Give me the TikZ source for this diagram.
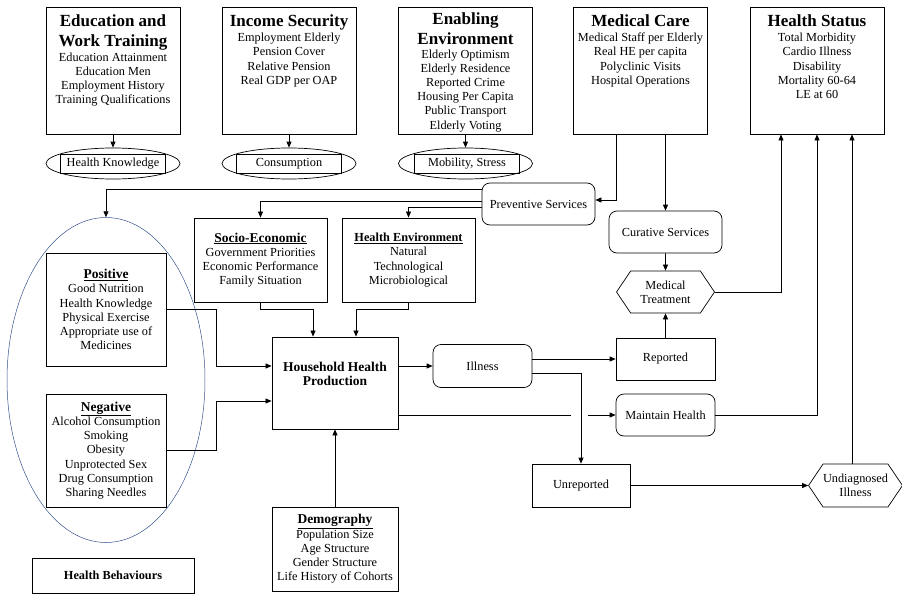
\documentclass[tikz,border=0pt]{standalone}
\usepackage{fontspec}
\setmainfont{Liberation Serif}
\usetikzlibrary{arrows.meta,positioning,shapes.geometric,shapes.symbols}
\definecolor{ovalblue}{RGB}{52,82,140}
\newcommand\factorhead[1]{{\fontsize{13.5}{14}\selectfont\bfseries\underline{#1}}}

\begin{document}
\begin{tikzpicture}[x=1pt,y=-1pt,>={Triangle[length=6pt,width=5pt]},
  font=\fontsize{12.3}{14.2}\selectfont,line width=0.7pt,
  panel/.style={draw,line width=0.9pt,minimum width=134pt,minimum height=127pt,inner sep=0pt},
  ptitle/.style={font=\fontsize{17}{19.5}\selectfont\bfseries,align=center,inner sep=0pt,text depth=3.7pt},
  pbody/.style={align=center,inner sep=0pt},
  oval/.style={draw,ellipse,minimum width=134pt,minimum height=31pt,inner sep=0pt},
  tag/.style={draw,minimum width=105pt,minimum height=19pt,inner sep=0pt},
  factor/.style={draw,line width=0.9pt,align=center,inner sep=0pt},
  soft/.style={draw,rounded corners=8pt,minimum width=99pt,minimum height=42pt,inner sep=0pt},
  plain/.style={draw,minimum width=99pt,minimum height=42pt,inner sep=0pt},
  hexa/.style={draw,signal,signal to=east and west,signal pointer angle=112,
    minimum width=98pt,minimum height=42pt,inner sep=0pt,align=center}]
  \useasboundingbox (0,0) rectangle (902,594);

  % determinants along the top
  \node[panel] (edu) at (113,70.5) {};
  \node[ptitle,below=8pt of edu.north] (edut) {Education and\\Work Training};
  \node[pbody,below=2pt of edut] (edub) {Education Attainment\\Education Men\\Employment History\\Training Qualifications};
  \node[panel] (inc) at (289,70.5) {};
  \node[ptitle,below=8pt of inc.north] (inct) {Income Security};
  \node[pbody,below=2pt of inct] (incb) {Employment Elderly\\Pension Cover\\Relative Pension\\Real GDP per OAP};
  \node[panel] (enab) at (465.5,70.5) {};
  \node[ptitle,below=6pt of enab.north] (enabt) {Enabling\\Environment};
  \node[pbody,below=1pt of enabt] (enabb) {Elderly Optimism\\Elderly Residence\\Reported Crime\\Housing Per Capita\\Public Transport\\Elderly Voting};
  \node[panel] (med) at (640.5,70.5) {};
  \node[ptitle,below=8pt of med.north] (medt) {Medical Care};
  \node[pbody,below=2pt of medt] (medb) {Medical Staff per Elderly\\Real HE per capita\\Polyclinic Visits\\Hospital Operations};
  \node[panel] (stat) at (817,70.5) {};
  \node[ptitle,below=8pt of stat.north] (statt) {Health Status};
  \node[pbody,below=2pt of statt] (statb) {Total Morbidity\\Cardio Illness\\Disability\\Mortality 60-64\\LE at 60};

  \node[oval] (know) at (113,163.5) {};
  \node[tag] (knowt) at (113,163.5) {Health Knowledge};
  \node[oval] (cons) at (289,163.5) {};
  \node[tag] (const) at (289,163.5) {Consumption};
  \node[oval] (mob) at (465.5,163.5) {};
  \node[tag] (mobt) at (467,163.5) {Mobility, Stress};
  \draw[->] (edu) -- (know);
  \draw[->] (inc) -- (cons);
  \draw[->] (enab) -- (mob);

  % health behaviours
  \node[draw=ovalblue,ellipse,line width=0.5pt,minimum width=198pt,minimum height=325pt] (behav) at (106,380) {};
  \node[factor,minimum width=120pt,minimum height=113pt] (pos) at (106,309.5)
    {\factorhead{Positive}\\Good Nutrition\\Health Knowledge\\Physical Exercise\\Appropriate use of\\Medicines};
  \node[factor,minimum width=120pt,minimum height=113pt] (neg) at (106,450.5)
    {\factorhead{Negative}\\Alcohol Consumption\\Smoking\\Obesity\\Unprotected Sex\\Drug Consumption\\Sharing Needles};
  \node[factor,minimum width=162pt,minimum height=35pt,font=\fontsize{12.3}{14}\selectfont\bfseries] (hb) at (113,575.5) {Health Behaviours};

  % household and its context
  \node[factor,minimum width=133pt,minimum height=84pt] (socio) at (260.5,260)
    {\factorhead{Socio-Economic}\\Government Priorities\\Economic Performance\\Family Situation};
  \node[factor,minimum width=133pt,minimum height=84pt] (henv) at (408.5,260)
    {{\bfseries\underline{Health Environment}}\\Natural\\Technological\\Microbiological};
  \node[factor,minimum width=126pt,minimum height=92pt,font=\fontsize{13.5}{14}\selectfont\bfseries] (hhp) at (335,383)
    {Household Health\\Production\\\strut};
  \node[factor,minimum width=126pt,minimum height=84pt] (demo) at (335,549)
    {\factorhead{Demography}\\Population Size\\Age Structure\\Gender Structure\\Life History of Cohorts};

  % services and outcomes
  \node[soft,minimum width=113pt] (prev) at (538.5,204) {Preventive Services};
  \node[soft,minimum width=113pt] (cur) at (665.5,232) {Curative Services};
  \node[hexa] (treat) at (665.5,292) {Medical\\Treatment};
  \node[soft,minimum height=43pt] (ill) at (482.5,366) {Illness};
  \node[plain] (rep) at (665.5,359) {Reported};
  \node[soft] (maint) at (665.5,415) {Maintain Health};
  \node[plain,minimum width=98pt,minimum height=43pt] (unrep) at (581,485.5) {Unreported};
  \node[hexa,minimum width=93pt,minimum height=43pt] (undiag) at (855.5,485.5) {Undiagnosed\\Illness};

  \draw[->] ([yshift=15pt]prev.west) -| (behav.north);
  \draw[->] ([yshift=3pt]prev.west) -| (socio.north);
  \draw[->] ([yshift=-3pt]prev.west) -| (henv.north);
  \draw[->] ([xshift=-24pt]med.south) |- ([yshift=4pt]prev.east);
  \draw[->] (med.south -| cur.north) -- (cur.north);
  \draw[->] (cur) -- (treat);
  \draw[->] (rep) -- (treat);

  \draw[->] (socio.south) -- ++(0,7) -| ([xshift=-22pt]hhp.north);
  \draw[->] (henv.south) -- ++(0,7) -| ([xshift=21pt]hhp.north);
  \draw[->] (pos.east) -- ++(50,0) |- ([yshift=17pt]hhp.west);
  \draw[->] (neg.east) -- ++(50,0) |- ([yshift=-18pt]hhp.west);
  \draw[->] (demo) -- (hhp);

  \draw[->] ([yshift=17pt]hhp.east) -- (ill.west);
  \draw[->] ([yshift=7pt]ill.east) -- (rep.west);
  \draw[->] ([yshift=-7pt]ill.east) -| (unrep.north);
  \draw ([yshift=-32pt]hhp.east) -- ([xshift=-10pt]unrep.north |- maint.west);
  \draw[->] ([xshift=7pt]unrep.north |- maint.west) -- (maint.west);
  \draw[->] (unrep.east) -- (undiag.west);

  \draw[->] (maint.east) -| (stat.south);
  \draw[->] (treat.east) -| ([xshift=-36pt]stat.south);
  \draw[<-] ([xshift=35pt]stat.south) -- ([xshift=35pt]stat.south |- undiag.north);
\end{tikzpicture}
\end{document}
